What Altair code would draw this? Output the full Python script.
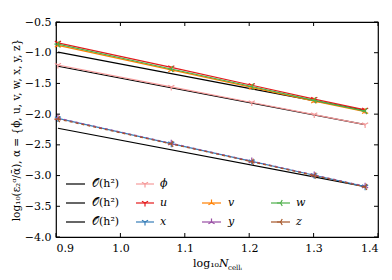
import altair as alt
import pandas as pd

# ---- data ----
N_LOG = [0.903, 1.079, 1.204, 1.301, 1.380]
PHI = [-1.20, -1.557, -1.81, -2.007, -2.17]
U = [-0.84, -1.24, -1.53, -1.755, -1.93]
V = [-0.88, -1.28, -1.565, -1.79, -1.96]
W = [-0.86, -1.265, -1.55, -1.775, -1.95]
XP = [-2.07, -2.48, -2.77, -2.995, -3.18]
YP = [-2.065, -2.475, -2.765, -2.99, -3.175]
ZP = [-2.08, -2.485, -2.775, -3.0, -3.185]
REF_X = [0.903, 1.380]
REF1 = [-0.99, -1.94]
REF2 = [-1.22, -2.17]
REF3 = [-2.23, -3.18]
X_TICKS = [0.9, 1.0, 1.1, 1.2, 1.3, 1.4]
Y_TICKS = [-4.0, -3.5, -3.0, -2.5, -2.0, -1.5, -1.0, -0.5]
REF_LABEL = "𝒪(h²)"
Y_TITLE = "log₁₀(ε₂ᵅ/ᾱ), α = {ϕ, u, v, w, x, y, z}"

FONT = "DejaVu Serif"
WIDTH, HEIGHT = 322, 215
TL = 4  # tick length

TRI_DOWN = "M0,0L0,1M0,0L-0.866,-0.5M0,0L0.866,-0.5"
TRI_UP = "M0,0L0,-1M0,0L-0.866,0.5M0,0L0.866,0.5"
TRI_LEFT = "M0,0L-1,0M0,0L0.5,-0.866M0,0L0.5,0.866"

SERIES = [
    ("ϕ", PHI, "#f59b9b", TRI_DOWN, None),
    ("u", U, "#e41a1c", TRI_DOWN, None),
    ("v", V, "#ff7f00", TRI_UP, None),
    ("w", W, "#4daf4a", TRI_LEFT, None),
    ("x", XP, "#377eb8", TRI_DOWN, None),
    ("y", YP, "#984ea3", TRI_UP, [3, 3]),
    ("z", ZP, "#a65628", TRI_LEFT, [3, 3]),
]

xs = alt.Scale(domain=[0.9, 1.4], nice=False, zero=False)
ys = alt.Scale(domain=[-4.0, -0.5], nice=False, zero=False)
AX_X = alt.Axis(values=X_TICKS, format=".1f", ticks=False, domain=False, grid=False,
                labelPadding=5, title=None)
AX_Y = alt.Axis(values=Y_TICKS, format=".1f", ticks=False, domain=False, grid=False,
                labelPadding=5, title=Y_TITLE, titlePadding=3, titleFontSize=10.5)


def enc_x(field):
    return alt.X(field, scale=xs, axis=AX_X)


def enc_y(field):
    return alt.Y(field, scale=ys, axis=AX_Y)


layers = []

# reference O(h^2) lines
ref_df = pd.DataFrame({
    "x": REF_X * 3,
    "y": REF1 + REF2 + REF3,
    "g": ["r1"] * 2 + ["r2"] * 2 + ["r3"] * 2,
})
layers.append(
    alt.Chart(ref_df).mark_line(color="black", strokeWidth=1.2).encode(
        x=enc_x("x:Q"), y=enc_y("y:Q"), detail="g:N")
)

for name, vals, col, shp, dash in SERIES:
    df = pd.DataFrame({"x": N_LOG, "y": vals})
    line_kw = dict(color=col, strokeWidth=1.2)
    if dash:
        line_kw["strokeDash"] = dash
    layers.append(alt.Chart(df).mark_line(**line_kw).encode(x=enc_x("x:Q"), y=enc_y("y:Q")))
    layers.append(
        alt.Chart(df).mark_point(shape=shp, filled=False, size=50, strokeWidth=1.2, color=col,
                                 opacity=1).encode(x=enc_x("x:Q"), y=enc_y("y:Q"))
    )

# inward ticks on all four sides
xt = pd.DataFrame({"t": X_TICKS})
yt = pd.DataFrame({"t": Y_TICKS})
for y0, y1 in [(HEIGHT, HEIGHT - TL), (0, TL)]:
    layers.append(alt.Chart(xt).mark_rule(color="black", strokeWidth=1).encode(
        x=enc_x("t:Q"), y=alt.value(y0), y2=alt.value(y1)))
for x0, x1 in [(0, TL), (WIDTH, WIDTH - TL)]:
    layers.append(alt.Chart(yt).mark_rule(color="black", strokeWidth=1).encode(
        y=enc_y("t:Q"), x=alt.value(x0), x2=alt.value(x1)))

# manual legend (layout only)
one = pd.DataFrame({"a": [0]})
ROWS = [162, 181, 200]
COLS = [(10, 29, 36), (80, 98, 104), (146, 165, 172), (215, 234, 240)]
entries = [
    (0, 0, REF_LABEL, "black", None, False),
    (0, 1, REF_LABEL, "black", None, False),
    (0, 2, REF_LABEL, "black", None, False),
    (1, 0, "ϕ", "#f59b9b", TRI_DOWN, True),
    (1, 1, "u", "#e41a1c", TRI_DOWN, True),
    (1, 2, "x", "#377eb8", TRI_DOWN, True),
    (2, 1, "v", "#ff7f00", TRI_UP, True),
    (2, 2, "y", "#984ea3", TRI_UP, True),
    (3, 1, "w", "#4daf4a", TRI_LEFT, True),
    (3, 2, "z", "#a65628", TRI_LEFT, True),
]
for c, r, lab, col, shp, ital in entries:
    x0, x1, tx = COLS[c]
    yy = ROWS[r]
    layers.append(alt.Chart(one).mark_rule(color=col, strokeWidth=1.2).encode(
        x=alt.value(x0), x2=alt.value(x1), y=alt.value(yy)))
    if shp:
        layers.append(alt.Chart(one).mark_point(shape=shp, filled=False, size=50, strokeWidth=1.2,
                                                color=col, opacity=1).encode(
            x=alt.value((x0 + x1) / 2), y=alt.value(yy)))
    layers.append(alt.Chart(one).mark_text(align="left", baseline="middle", font=FONT, fontSize=11,
                                           fontStyle="italic" if ital else "normal", color="black").encode(
        x=alt.value(tx), y=alt.value(yy), text=alt.value(lab)))

# x-axis title (manual, with subscript)
XT = 163
layers.append(alt.Chart(one).mark_text(align="right", baseline="alphabetic", font=FONT, fontSize=11,
                                       color="black").encode(
    x=alt.value(XT), y=alt.value(245), text=alt.value("log₁₀ ")))
layers.append(alt.Chart(one).mark_text(align="left", baseline="alphabetic", font=FONT, fontSize=11,
                                       fontStyle="italic", color="black").encode(
    x=alt.value(XT), y=alt.value(245), text=alt.value("N")))
layers.append(alt.Chart(one).mark_text(align="left", baseline="alphabetic", font=FONT, fontSize=7,
                                       color="black").encode(
    x=alt.value(XT + 9), y=alt.value(248), text=alt.value("cellᵢ")))

chart = alt.layer(*layers).properties(
    width=WIDTH, height=HEIGHT,
    autosize=alt.AutoSizeParams(type="none"),
    padding={"left": 48, "top": 14, "right": 6, "bottom": 40},
).configure_view(stroke="black", strokeWidth=1.2).configure_axis(
    labelFont=FONT, labelFontSize=11, labelColor="black",
    titleFont=FONT, titleFontSize=11, titleFontWeight="normal", titleColor="black",
)

chart.save("out.html", embed_options={"renderer": "svg", "actions": False})
